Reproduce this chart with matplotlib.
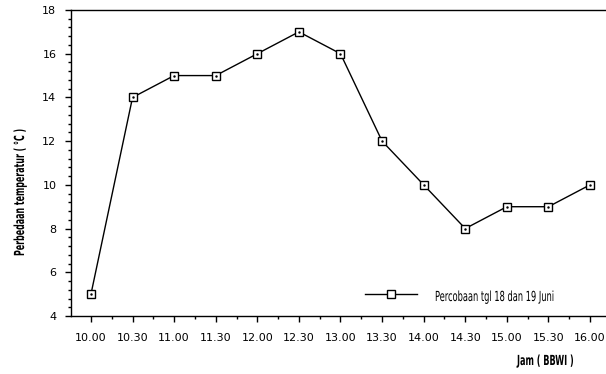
import matplotlib
matplotlib.use("Agg")
import matplotlib.pyplot as plt
from matplotlib.ticker import MultipleLocator
from matplotlib.patheffects import AbstractPathEffect
from matplotlib.transforms import Affine2D

times = ["10.00", "10.30", "11.00", "11.30", "12.00", "12.30", "13.00",
         "13.30", "14.00", "14.30", "15.00", "15.30", "16.00"]
temps = [5, 14, 15, 15, 16, 17, 16, 12, 10, 8, 9, 9, 10]
series_label = "Percobaan tgl 18 dan 19 Juni"
ylabel = "Perbedaan temperatur ( °C )"
xlabel = "Jam ( BBWI )"


class Squeeze(AbstractPathEffect):
    """Draw text condensed horizontally / stretched vertically (narrow-font look)."""
    def __init__(self, sx, sy=1.0, dy=0.0):
        super().__init__()
        self.sx = sx
        self.sy = sy
        self.dy = dy

    def draw_path(self, renderer, gc, tpath, affine, rgbFace=None):
        tr = Affine2D().scale(self.sx, self.sy) + affine + Affine2D().translate(0, self.dy)
        renderer.draw_path(gc, tpath, tr, rgbFace)


W, H = 606, 374
fig = plt.figure(figsize=(W / 100, H / 100), dpi=100)
ax = fig.add_axes([71 / W, 1 - 316 / H, (605 - 71) / W, (316 - 10) / H])

x = list(range(len(times)))
ax.plot(x, temps, color="black", lw=1.0, marker="s", ms=5.8,
        mfc="white", mec="black", mew=1.0, label=series_label)
ax.plot(x, temps, ls="none", marker=".", ms=1.5, color="black")

ax.set_xlim(-0.48, 12.36)
ax.set_ylim(4, 18)
ax.set_xticks(x)
ax.set_xticklabels(times, fontsize=8)
ax.xaxis.set_minor_locator(MultipleLocator(0.5))
ax.yaxis.set_major_locator(MultipleLocator(2))
ax.yaxis.set_minor_locator(MultipleLocator(0.4))
ax.tick_params(axis="y", labelsize=8, length=4.5, width=1, direction="out", pad=6)
ax.tick_params(axis="x", length=4.5, width=1, direction="out", pad=8)
ax.tick_params(which="minor", length=2.5, width=1)
ax.spines["right"].set_visible(False)
for s in ["left", "bottom", "top"]:
    ax.spines[s].set_linewidth(1.0)

fig.text(24 / W, 1 - 256 / H, ylabel, rotation=90, rotation_mode="anchor",
         ha="left", va="baseline", fontsize=10, fontweight="bold",
         path_effects=[Squeeze(0.57)])
fig.text(517 / W, 1 - 365 / H, xlabel, ha="left", va="baseline",
         fontsize=8, fontweight="bold", path_effects=[Squeeze(0.73, 1.25)])

leg = ax.legend(loc="center left", bbox_to_anchor=(365 / W, 1 - 295 / H),
                bbox_transform=fig.transFigure, frameon=False,
                handlelength=4.7, handletextpad=1.6, borderpad=0,
                borderaxespad=0, fontsize=8)
for t in leg.get_texts():
    t.set_path_effects([Squeeze(0.745, 1.25, dy=-3)])

fig.savefig("out.png", dpi=100)
